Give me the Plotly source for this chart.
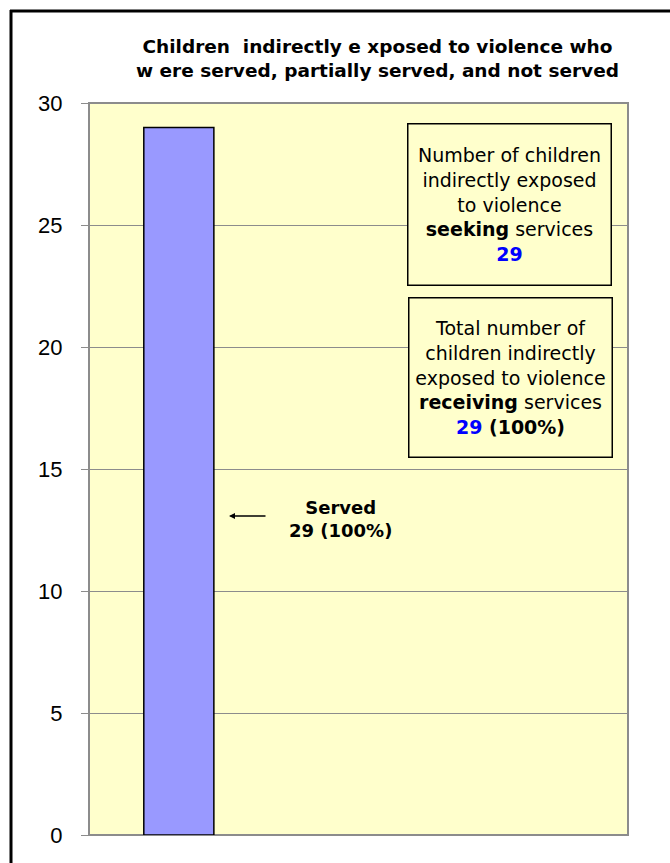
import plotly.graph_objects as go

categories = ["Served", "Partially served", "Not served"]
values = [29, 0, 0]
seeking_total = 29
receiving_total = 29
receiving_pct = "100%"
served_label = "Served"
served_pct = "100%"
y_ticks = [0, 5, 10, 15, 20, 25, 30]

W, H = 670, 863
L, R, T, B = 89, 42, 103, 28
PW, PH = W - L - R, H - T - B

def px(x):
    return (x - L) / PW

def py(y):
    return (H - B - y) / PH

FONT = "Arial, Liberation Sans, sans-serif"
BOXFONT = "DejaVu Sans, sans-serif"

fig = go.Figure()
fig.add_trace(go.Bar(
    x=categories, y=values,
    marker=dict(color="#9999FF", line=dict(color="black", width=[1.5 if v > 0 else 0 for v in values])),
    width=0.39, showlegend=False, hoverinfo="skip",
))

common = dict(xref="paper", yref="paper", xanchor="center", yanchor="middle")

annotations = [
    dict(text="<b>Children  indirectly e xposed to violence who<br>w ere served, partially served, and not served</b>",
         x=px(377), y=py(59), showarrow=False,
         font=dict(family=BOXFONT, size=18.5, color="black"), align="center", **common),
    dict(text=("Number of children<br>indirectly exposed<br>to violence<br><b>seeking</b> services<br>"
               f"<b><span style='color:#0000FF'>{seeking_total}</span></b>"),
         x=px(509), y=py(204.5), showarrow=False,
         width=202, height=160, borderpad=0, bordercolor="black", borderwidth=1.5,
         bgcolor="#FFFFCC", font=dict(family=BOXFONT, size=19, color="black"), align="center", **common),
    dict(text=("Total number of<br>children indirectly<br>exposed to violence<br><b>receiving</b> services<br>"
               f"<b><span style='color:#0000FF'>{receiving_total}</span> ({receiving_pct})</b>"),
         x=px(510.5), y=py(377.5), showarrow=False,
         width=202, height=158, borderpad=0, bordercolor="black", borderwidth=1.5,
         bgcolor="#FFFFCC", font=dict(family=BOXFONT, size=19, color="black"), align="center", **common),
    dict(text=f"<b>{served_label}<br>{values[0]} ({served_pct})</b>",
         x=px(340), y=py(519), showarrow=False,
         font=dict(family=BOXFONT, size=18, color="black"), align="center", **common),
    dict(text="", x=px(229), y=py(516), xref="paper", yref="paper",
         ax=38, ay=0, axref="pixel", ayref="pixel", showarrow=True,
         arrowhead=2, arrowsize=0.8, arrowwidth=1.5, arrowcolor="black"),
]

shapes = [
    dict(type="line", xref="paper", yref="paper", x0=px(11), x1=px(11), y0=py(10), y1=py(900),
         line=dict(color="black", width=3)),
    dict(type="line", xref="paper", yref="paper", x0=px(10), x1=px(700), y0=py(11), y1=py(11),
         line=dict(color="black", width=3)),
    dict(type="rect", xref="paper", yref="paper", x0=0, x1=1, y0=0, y1=1,
         line=dict(color="#8C8C8C", width=2), layer="below"),
]

fig.update_layout(
    width=W, height=H,
    margin=dict(l=L, r=R, t=T, b=B, pad=0),
    paper_bgcolor="white", plot_bgcolor="#FFFFCC",
    annotations=annotations, shapes=shapes,
    xaxis=dict(showticklabels=False, showgrid=False, zeroline=False, ticks="",
               showline=False, range=[-0.5, 2.5]),
    yaxis=dict(range=[0, 30], tickvals=y_ticks, showgrid=True, gridcolor="#8C8C8C", gridwidth=1,
               zeroline=True, zerolinecolor="#8C8C8C", zerolinewidth=2,
               ticks="outside", ticklen=7, tickcolor="#8C8C8C", tickwidth=1,
               ticklabelstandoff=14,
               tickfont=dict(family=FONT, size=22, color="black"), showline=False),
    font=dict(family=FONT),
)

fig.write_html("out.html", config={"displayModeBar": False},
               post_script="document.body.style.margin='0px';document.body.style.overflow='hidden';")
